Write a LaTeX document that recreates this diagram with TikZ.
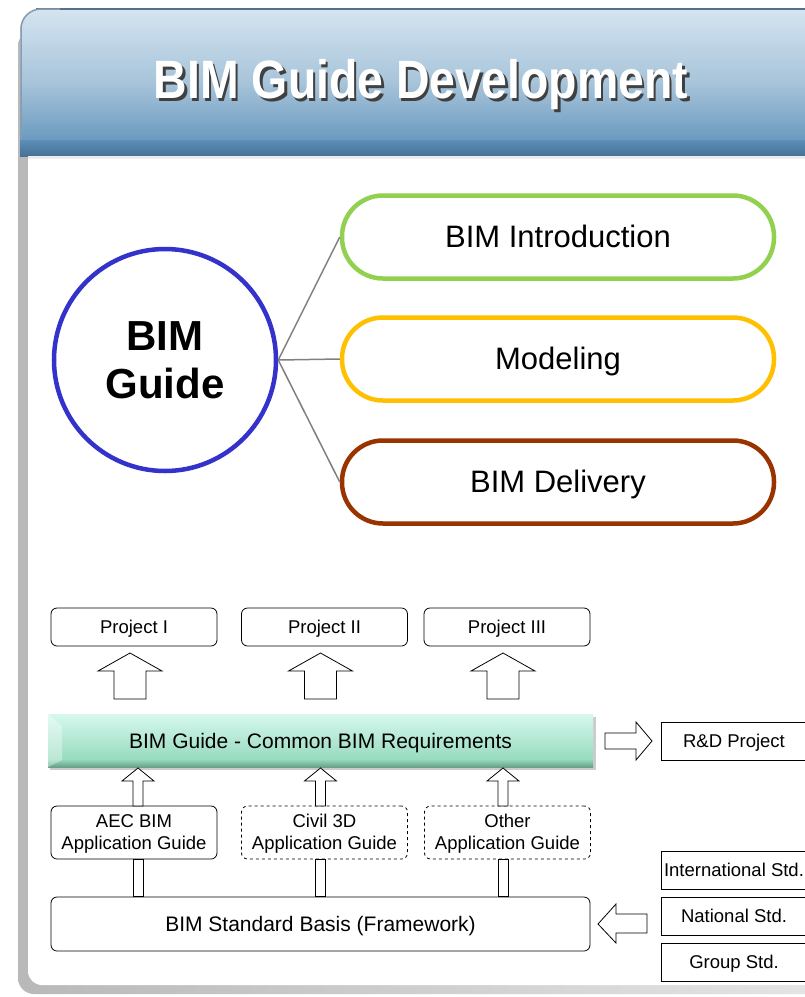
\documentclass[tikz,border=0pt]{standalone}
\usepackage{fontspec}
\setmainfont{Liberation Sans}
\usetikzlibrary{calc}
\definecolor{hdtop}{HTML}{D5E4F0}
\definecolor{hdmid}{HTML}{A7C4DA}
\definecolor{hdbot}{HTML}{5A8EB8}
\definecolor{hdline}{HTML}{55708F}
\definecolor{cblue}{HTML}{3333CC}
\definecolor{cgreen}{HTML}{92D050}
\definecolor{cyellow}{HTML}{FFC000}
\definecolor{cbrown}{HTML}{993300}
\definecolor{bartop}{HTML}{D6F8EF}
\definecolor{barbot}{HTML}{8ED6B6}
\newcommand\uparrowshape[6]{% cx, tip, base, bottom, head half width, shaft half width
  \draw[blockarrow] (#1,#2) -- ({#1+#5},#3) -- ({#1+#6},#3) -- ({#1+#6},#4) -- ({#1-#6},#4) -- ({#1-#6},#3) -- ({#1-#5},#3) -- cycle;}
\tikzset{
  pill/.style={draw, line width=4.5pt, rounded corners=41pt, minimum width=432pt, minimum height=83pt, fill=white, font=\fontsize{31}{36}\selectfont, text height=28pt, text depth=6.6pt},
  projbox/.style={draw, line width=0.8pt, rounded corners=6pt, minimum width=166pt, minimum height=38pt, font=\fontsize{18.5}{22}\selectfont, inner sep=0pt, text height=16.7pt, text depth=3.9pt},
  guidebox/.style={draw, line width=0.8pt, rounded corners=6pt, minimum width=166pt, minimum height=53pt, font=\fontsize{18.5}{22}\selectfont, inner sep=0pt, align=center},
  stdbox/.style={draw, line width=0.8pt, minimum width=146pt, minimum height=38pt, font=\fontsize{18.5}{22}\selectfont, inner sep=0pt, text height=16.7pt, text depth=3.9pt},
  bigtext/.style={font=\fontsize{21}{24}\selectfont, text height=19pt, text depth=4.5pt},
  blockarrow/.style={draw, line width=0.8pt, fill=white},
  spoke/.style={draw=gray, line width=1.5pt},
  titlefont/.style={font=\bfseries\fontsize{54}{60}\selectfont, xscale=0.86},
}
\begin{document}
\begin{tikzpicture}[x=1pt,y=-1pt]
\useasboundingbox (0,0) rectangle (805,997);
\clip (0,0) rectangle (805,997);
% panel with shadow
\fill[white] (0,0) rectangle (805,997);
\shade[left color=gray!55, right color=gray!20, rounded corners=16pt] (18,30) rectangle (840,994);
\fill[white, rounded corners=14pt] (28,20) rectangle (840,985);
% header
\shade[top color=hdtop, bottom color=hdbot, middle color=hdmid] (20,156) [rounded corners=20pt] -- (20,9) -- (840,9) [sharp corners] -- (840,156) -- cycle;
\shade[top color=hdbot, bottom color=hdbot!80!black] (20,140) rectangle (840,156);
\draw[hdline, line width=2.5pt] (36,9) -- (840,9);
\draw[hdline!70, line width=1.5pt, rounded corners=20pt] (21,140) -- (21,9) -- (60,9);
\fill[gray!15] (28,156) rectangle (840,159);
% title
\node[text=black!75, titlefont] (titleshadow) at (423.5,87.5) {BIM Guide Development};
\node[text=white, titlefont] (title) at (421,85) {BIM Guide Development};
% circle and pills
\node[draw=cblue, line width=4.5pt, circle, minimum size=222pt, align=center, font=\bfseries\fontsize{42}{48}\selectfont] (guide) at (165,360) {BIM\\Guide};
\node[pill, draw=cgreen] (intro) at (558,237) {BIM Introduction};
\node[pill, draw=cyellow] (model) at (558,359) {Modeling};
\node[pill, draw=cbrown] (deliv) at (558,482) {BIM Delivery};
\draw[spoke] (guide.east) -- (intro.west);
\draw[spoke] (guide.east) -- (model.west);
\draw[spoke] (guide.east) -- (deliv.west);
% projects
\node[projbox] (p1) at (134,627) {Project I};
\node[projbox] (p2) at (324.5,627) {Project II};
\node[projbox] (p3) at (507,627) {Project III};
\uparrowshape{130}{653}{671}{699}{32}{16}
\uparrowshape{320.5}{653}{671}{699}{32}{16}
\uparrowshape{503}{653}{671}{699}{32}{16}
% green bar
\fill[gray!40] (50,717) rectangle (596,770);
\shade[top color=bartop, bottom color=barbot] (48,714) rectangle (593,767);
\shade[top color=barbot, bottom color=barbot!75!black] (48,760) rectangle (593,767);
\fill[white, opacity=0.35] (48,714) -- (62,726) -- (62,760) -- (48,767) -- cycle;
\node[bigtext] (bar) at (320.5,741) {BIM Guide - Common BIM Requirements};
% R&D
\draw[blockarrow] (652,741) -- (636,722) -- (636,733) -- (605,733) -- (605,749) -- (636,749) -- (636,760) -- cycle;
\node[stdbox] (rnd) at (734,741) {R\&D Project};
% application guides
\node[guidebox] (aec) at (134,832.5) {\rule{0pt}{16pt}AEC BIM\\Application Guide};
\node[guidebox, dashed] (civil) at (324.5,832.5) {\rule{0pt}{16pt}Civil 3D\\Application Guide};
\node[guidebox, dashed] (other) at (507.5,832.5) {\rule{0pt}{16pt}Other\\Application Guide};
\uparrowshape{138}{768}{781}{806}{16}{5}
\uparrowshape{320.5}{768}{781}{806}{16}{5}
\uparrowshape{503}{768}{781}{806}{16}{5}
% framework
\node[projbox, minimum width=539pt, minimum height=54pt, bigtext] (frame) at (320.5,924) {BIM Standard Basis (Framework)};
\draw[blockarrow] (133,859.5) rectangle (143,896.5);
\draw[blockarrow] (315.5,859.5) rectangle (325.5,896.5);
\draw[blockarrow] (498,859.5) rectangle (508,896.5);
% standards
\draw[blockarrow] (598,924) -- (616,904) -- (616,914) -- (647,914) -- (647,933) -- (616,933) -- (616,943) -- cycle;
\node[stdbox] (intl) at (734,870) {International Std.};
\node[stdbox] (natl) at (734,916) {National Std.};
\node[stdbox] (grp) at (734,962) {Group Std.};
\end{tikzpicture}
\end{document}
